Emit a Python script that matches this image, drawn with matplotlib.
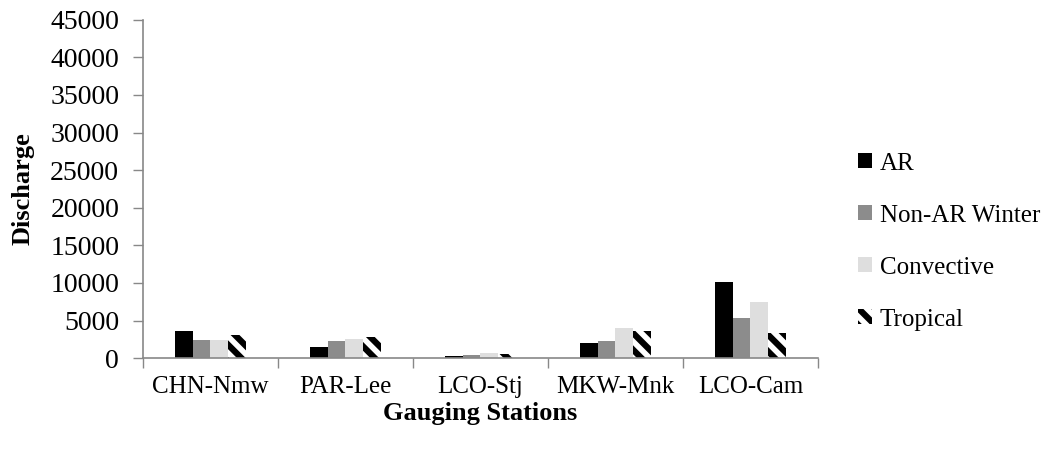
import numpy as np
import matplotlib
matplotlib.use("Agg")
import matplotlib.pyplot as plt

# Data
stations = ["CHN-Nmw", "PAR-Lee", "LCO-Stj", "MKW-Mnk", "LCO-Cam"]
ar = [3600, 1550, 270, 2000, 10150]
non_ar_winter = [2400, 2250, 400, 2250, 5300]
convective = [2400, 2600, 700, 3950, 7500]
tropical = [3150, 2850, 550, 3650, 3400]
series_names = ["AR", "Non-AR Winter", "Convective", "Tropical"]
yticks = np.arange(0, 45001, 5000)

plt.rcParams['font.family'] = ['Liberation Serif', 'DejaVu Serif']
plt.rcParams['hatch.linewidth'] = 4.5
plt.rcParams['hatch.color'] = 'black'

fig = plt.figure(figsize=(10.5, 4.5), dpi=100)
ax = fig.add_axes([0.136, 0.204, 0.643, 0.752])

x = np.arange(len(stations))
w = 0.131
series = [ar, non_ar_winter, convective, tropical]
styles = [
    dict(color='black'),
    dict(color='#8c8c8c'),
    dict(color='#dedede'),
    dict(facecolor='white', edgecolor='black', hatch='\\\\', linewidth=0),
]
for i, (vals, name, st) in enumerate(zip(series, series_names, styles)):
    ax.bar(x + (i - 1.5) * w, vals, width=w, label=name, **st)

ax.set_xlim(-0.5, len(stations) - 0.5)
ax.set_ylim(0, 45000)
ax.set_yticks(yticks)
ax.set_xticks(x)
ax.set_xticklabels(stations)
ax.set_xticks(np.arange(-0.5, len(stations)), minor=True)

ax.tick_params(axis='y', labelsize=20, length=7, width=1, color='#888888', pad=10)
ax.tick_params(axis='x', which='major', labelsize=18, length=0, pad=13)
ax.tick_params(axis='x', which='minor', length=7, width=1, color='#888888')

for s in ['top', 'right']:
    ax.spines[s].set_visible(False)
for s in ['left', 'bottom']:
    ax.spines[s].set_color('#888888')
    ax.spines[s].set_linewidth(1.2)

ax.set_ylabel("Discharge", fontsize=19, fontweight='bold', labelpad=11)
ax.set_xlabel("Gauging Stations", fontsize=19, fontweight='bold', labelpad=3)

leg = ax.legend(loc='center left', bbox_to_anchor=(0.808, 0.463), bbox_transform=fig.transFigure,
                frameon=False, fontsize=18, handlelength=0.55, handleheight=0.55,
                handletextpad=0.3, labelspacing=1.2, borderaxespad=0)

fig.savefig("out.png", dpi=100)
